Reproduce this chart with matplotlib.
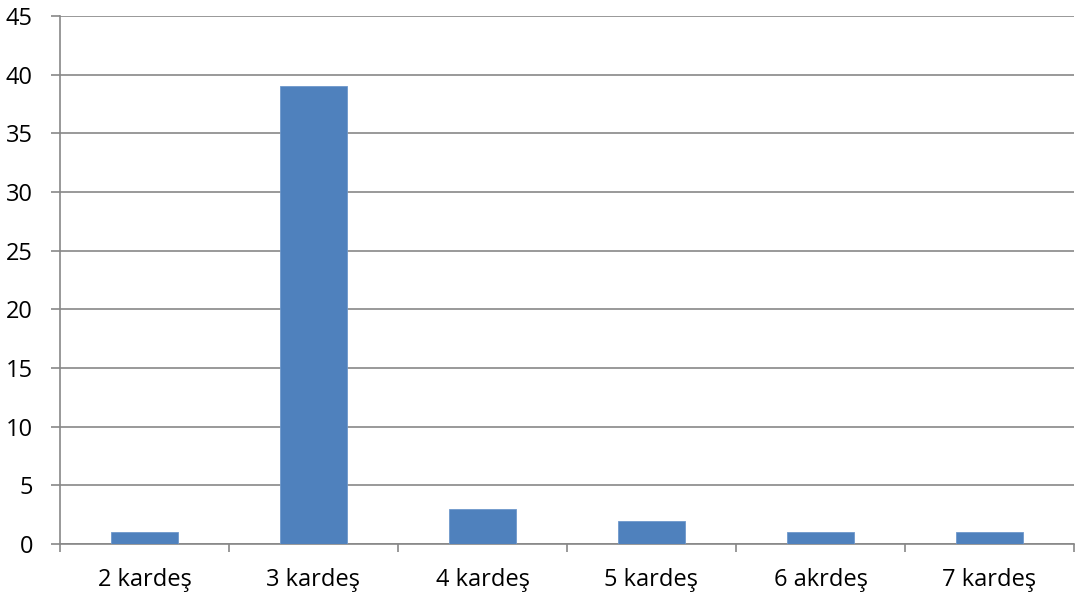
import matplotlib
matplotlib.use('Agg')
import matplotlib.pyplot as plt
import numpy as np

# sibling counts
categories = ['2 kardeş', '3 kardeş', '4 kardeş', '5 kardeş', '6 akrdeş', '7 kardeş']
counts = [1, 39, 3, 2, 1, 1]

plt.rcParams['font.family'] = ['Open Sans', 'DejaVu Sans']

fig = plt.figure(figsize=(10.76, 5.93), dpi=100)
ax = fig.add_axes([60 / 1076, 49 / 593, 1014 / 1076, 528 / 593])

x = np.arange(len(categories))
ax.bar(x, counts, width=0.4, color='#4F81BD', edgecolor='#6E98CC', linewidth=0.6, zorder=3)

ax.set_xlim(-0.5, len(categories) - 0.5)
ax.set_ylim(0, 45)
ax.set_yticks(np.arange(0, 46, 5))
ax.yaxis.grid(True, color='#878787', linewidth=1.2, zorder=0)

ax.set_xticks(x)
ax.set_xticklabels(categories, fontsize=17)
ax.set_xticks(np.arange(-0.5, len(categories), 1), minor=True)
ax.tick_params(axis='x', which='major', length=0, pad=17)
ax.tick_params(axis='x', which='minor', length=6, color='#878787', width=1.2)
ax.tick_params(axis='y', length=6.5, color='#878787', width=1.2, labelsize=17, pad=13)

for s in ['top', 'right']:
    ax.spines[s].set_visible(False)
for s in ['left', 'bottom']:
    ax.spines[s].set_color('#878787')
    ax.spines[s].set_linewidth(1.2)

fig.savefig('out.png', dpi=100)
